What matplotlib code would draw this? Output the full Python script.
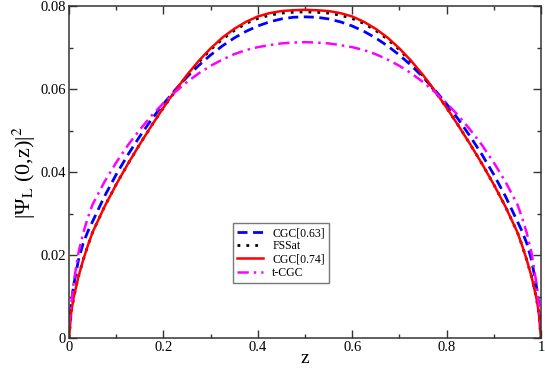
#!/usr/bin/env python3
"""Squared light-cone wave function |Psi_L(0,z)|^2 for several models."""

import matplotlib
matplotlib.use("Agg")
import matplotlib.pyplot as plt
from matplotlib.ticker import MultipleLocator, FormatStrFormatter

plt.rcParams["font.family"] = ["Liberation Serif", "DejaVu Serif"]
plt.rcParams["mathtext.fontset"] = "stix"

# values
z = [0.0, 0.005, 0.01, 0.02, 0.03, 0.04, 0.05, 0.075, 0.1, 0.125, 0.15, 0.175, 0.2, 0.225,
     0.25, 0.275, 0.3, 0.325, 0.35, 0.375, 0.4, 0.425, 0.45, 0.475, 0.5,
     0.525, 0.55, 0.575, 0.6, 0.625, 0.65, 0.675, 0.7, 0.725, 0.75, 0.775, 0.8, 0.825,
     0.85, 0.875, 0.9, 0.925, 0.95, 0.96, 0.97, 0.98, 0.99, 0.995, 1.0]

cgc_063 = [0.002, 0.0085, 0.0128, 0.0188, 0.0228, 0.0257, 0.0281, 0.0341, 0.0394, 0.0442,
           0.0486, 0.0527, 0.0564, 0.0598, 0.0629, 0.0657, 0.0682, 0.0704, 0.0723, 0.0739,
           0.0752, 0.0762, 0.0769, 0.0773, 0.0774,
           0.0773, 0.0769, 0.0762, 0.0752, 0.0739, 0.0723, 0.0704, 0.0682, 0.0657, 0.0629,
           0.0598, 0.0564, 0.0527, 0.0486, 0.0442, 0.0394, 0.0341, 0.0281, 0.0257, 0.0228,
           0.0188, 0.0128, 0.0085, 0.002]

fssat = [0.0, 0.0065, 0.0098, 0.0148, 0.0188, 0.0223, 0.0255, 0.0316, 0.0370, 0.0420,
         0.0467, 0.0512, 0.0555, 0.0595, 0.0632, 0.0665, 0.0695, 0.0720, 0.0741, 0.0758,
         0.0770, 0.0778, 0.0783, 0.0785, 0.0786,
         0.0785, 0.0783, 0.0778, 0.0770, 0.0758, 0.0741, 0.0720, 0.0695, 0.0665, 0.0632,
         0.0595, 0.0555, 0.0512, 0.0467, 0.0420, 0.0370, 0.0316, 0.0255, 0.0223, 0.0188,
         0.0148, 0.0098, 0.0065, 0.0]

cgc_074 = [0.0, 0.0065, 0.0098, 0.0148, 0.0188, 0.0223, 0.0255, 0.0316, 0.0370, 0.0420,
           0.0467, 0.0512, 0.0555, 0.0596, 0.0634, 0.0668, 0.0698, 0.0724, 0.0745, 0.0762,
           0.0775, 0.0783, 0.0788, 0.0790, 0.0791,
           0.0790, 0.0788, 0.0783, 0.0775, 0.0762, 0.0745, 0.0724, 0.0698, 0.0668, 0.0634,
           0.0596, 0.0555, 0.0512, 0.0467, 0.0420, 0.0370, 0.0316, 0.0255, 0.0223, 0.0188,
           0.0148, 0.0098, 0.0065, 0.0]

tcgc = [0.003, 0.0085, 0.0135, 0.0205, 0.0253, 0.0290, 0.0322, 0.0376, 0.0423, 0.0465,
        0.0502, 0.0536, 0.0566, 0.0593, 0.0617, 0.0638, 0.0656, 0.0671, 0.0684, 0.0694,
        0.0701, 0.0706, 0.0710, 0.0712, 0.0713,
        0.0712, 0.0710, 0.0706, 0.0701, 0.0694, 0.0684, 0.0671, 0.0656, 0.0638, 0.0617,
        0.0593, 0.0566, 0.0536, 0.0502, 0.0465, 0.0423, 0.0376, 0.0322, 0.0290, 0.0253,
        0.0205, 0.0135, 0.0085, 0.003]

fig = plt.figure(figsize=(5.45, 3.68), dpi=100)
ax = fig.add_axes([0.1266, 0.0815, 0.866, 0.902])

ax.plot(z, cgc_063, color="#0000ff", lw=2.0, ls=(0, (3.6, 2.0)), label="CGC[0.63]")
ax.plot(z, fssat, color="black", lw=2.0, ls=(0, (1, 2.2)), label="FSSat")
ax.plot(z, cgc_074, color="#ff0000", lw=1.8, label="CGC[0.74]")
ax.plot(z, tcgc, color="#ff00ff", lw=1.8, ls=(0, (4.5, 2.0, 1, 2.0)), label="t-CGC")

ax.set_xlim(0, 1)
ax.set_ylim(0, 0.08)
ax.xaxis.set_major_locator(MultipleLocator(0.2))
ax.xaxis.set_minor_locator(MultipleLocator(0.1))
ax.yaxis.set_major_locator(MultipleLocator(0.02))
ax.yaxis.set_minor_locator(MultipleLocator(0.01))
ax.xaxis.set_major_formatter(FormatStrFormatter("%g"))
ax.yaxis.set_major_formatter(FormatStrFormatter("%g"))
ax.tick_params(which="both", direction="in", top=True, right=True,
               color="#333333", labelsize=10.5, width=1.0, pad=2)
ax.tick_params(which="major", length=6)
ax.tick_params(which="minor", length=3)
for s in ax.spines.values():
    s.set_color("#333333")
    s.set_linewidth(1.1)

ax.set_xlabel("z", fontsize=14, labelpad=-3)
ax.set_ylabel(r"|Ψ$_{\mathrm{L}}$ (0,z)|$^2$", fontsize=16, labelpad=2)

leg = ax.legend(loc="lower left", bbox_to_anchor=(0.347, 0.166), fontsize=8.5,
                frameon=True, fancybox=False, handlelength=2.2, borderpad=0.35,
                labelspacing=0.1, handletextpad=0.8, borderaxespad=0)
leg.get_frame().set_edgecolor("#555555")
leg.get_frame().set_linewidth(1.0)

fig.savefig("out.png", dpi=100)
plt.close(fig)
